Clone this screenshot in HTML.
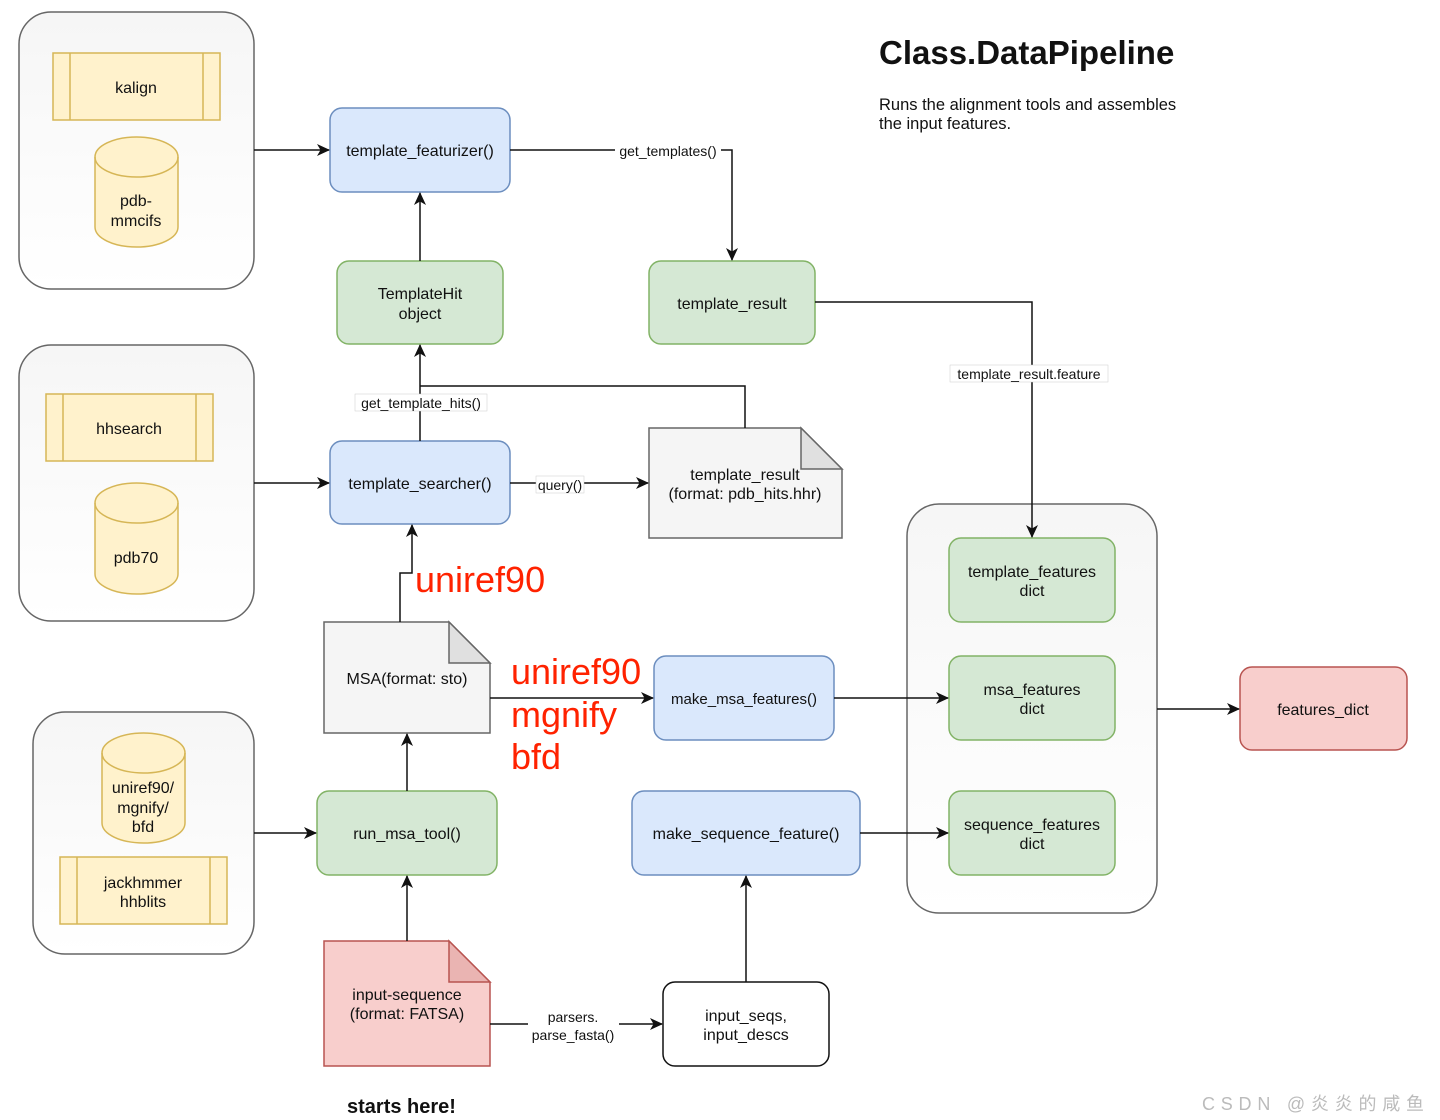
<!DOCTYPE html>
<html><head><meta charset="utf-8"><style>
html,body{margin:0;padding:0;background:#fff}
svg{display:block}
text{font-family:"Liberation Sans",Arial,sans-serif;fill:#111}
</style></head><body>
<svg width="1440" height="1120" viewBox="0 0 1440 1120" xmlns="http://www.w3.org/2000/svg">
<defs>
<marker id="a" markerWidth="14" markerHeight="14" refX="12" refY="7" orient="auto" markerUnits="userSpaceOnUse">
<path d="M0,1 L13,7 L0,13 L3.5,7 Z" fill="#111"/></marker>
<linearGradient id="g" x1="0" y1="0" x2="0" y2="1"><stop offset="0" stop-color="#f6f6f6"/><stop offset="1" stop-color="#ffffff"/></linearGradient>
</defs>

<rect x="19" y="12" width="235" height="277" rx="32" fill="url(#g)" stroke="#666" stroke-width="1.5"/>
<rect x="19" y="345" width="235" height="276" rx="32" fill="url(#g)" stroke="#666" stroke-width="1.5"/>
<rect x="33" y="712" width="221" height="242" rx="32" fill="url(#g)" stroke="#666" stroke-width="1.5"/>
<rect x="907" y="504" width="250" height="409" rx="32" fill="url(#g)" stroke="#666" stroke-width="1.5"/>

<g fill="#fff2cc" stroke="#d6b656" stroke-width="1.5">
<rect x="53" y="53" width="167" height="67"/><line x1="70" y1="53" x2="70" y2="120"/><line x1="203" y1="53" x2="203" y2="120"/>
<rect x="46" y="394" width="167" height="67"/><line x1="63" y1="394" x2="63" y2="461"/><line x1="196" y1="394" x2="196" y2="461"/>
<rect x="60" y="857" width="167" height="67"/><line x1="77" y1="857" x2="77" y2="924"/><line x1="210" y1="857" x2="210" y2="924"/>
<path d="M95,157 A41.5,20 0 0 1 178,157 L178,227 A41.5,20 0 0 1 95,227 Z"/><path d="M95,157 A41.5,20 0 0 0 178,157" fill="none"/>
<path d="M95,503 A41.5,20 0 0 1 178,503 L178,574 A41.5,20 0 0 1 95,574 Z"/><path d="M95,503 A41.5,20 0 0 0 178,503" fill="none"/>
<path d="M102,753 A41.5,20 0 0 1 185,753 L185,823 A41.5,20 0 0 1 102,823 Z"/><path d="M102,753 A41.5,20 0 0 0 185,753" fill="none"/>
</g>
<g font-size="16" text-anchor="middle">
<text x="136" y="93">kalign</text>
<text x="136" y="206">pdb-</text><text x="136" y="226">mmcifs</text>
<text x="129" y="434">hhsearch</text>
<text x="136" y="563">pdb70</text>
<text x="143" y="793">uniref90/</text><text x="143" y="813">mgnify/</text><text x="143" y="832">bfd</text>
<text x="143" y="888">jackhmmer</text><text x="143" y="907">hhblits</text>
</g>

<g fill="#dae8fc" stroke="#6c8ebf" stroke-width="1.5">
<rect x="330" y="108" width="180" height="84" rx="12"/>
<rect x="330" y="441" width="180" height="83" rx="12"/>
<rect x="654" y="656" width="180" height="84" rx="12"/>
<rect x="632" y="791" width="228" height="84" rx="12"/>
</g>
<g fill="#d5e8d4" stroke="#82b366" stroke-width="1.5">
<rect x="337" y="261" width="166" height="83" rx="12"/>
<rect x="649" y="261" width="166" height="83" rx="12"/>
<rect x="317" y="791" width="180" height="84" rx="12"/>
<rect x="949" y="538" width="166" height="84" rx="12"/>
<rect x="949" y="656" width="166" height="84" rx="12"/>
<rect x="949" y="791" width="166" height="84" rx="12"/>
</g>
<rect x="1240" y="667" width="167" height="83" rx="12" fill="#f8cecc" stroke="#b85450" stroke-width="1.5"/>
<rect x="663" y="982" width="166" height="84" rx="12" fill="#fff" stroke="#111" stroke-width="1.5"/>

<g stroke-width="1.5">
<path d="M649,428 L801,428 L842,469 L842,538 L649,538 Z" fill="#f5f5f5" stroke="#666"/>
<path d="M801,428 L801,469 L842,469 Z" fill="#e0e0e0" stroke="#666"/>
<path d="M324,622 L449,622 L490,663 L490,733 L324,733 Z" fill="#f5f5f5" stroke="#666"/>
<path d="M449,622 L449,663 L490,663 Z" fill="#e0e0e0" stroke="#666"/>
<path d="M324,941 L449,941 L490,982 L490,1066 L324,1066 Z" fill="#f8cecc" stroke="#b85450"/>
<path d="M449,941 L449,982 L490,982 Z" fill="#eab4b2" stroke="#b85450"/>
</g>

<g fill="none" stroke="#111" stroke-width="1.5" marker-end="url(#a)">
<path d="M254,150 L329,150"/>
<path d="M420,261 L420,193"/>
<path d="M510,150 L732,150 L732,260"/>
<path d="M815,302 L1032,302 L1032,537"/>
<path d="M254,483 L329,483"/>
<path d="M420,441 L420,345"/>
<path d="M510,483 L648,483"/>
<path d="M400,622 L400,573 L412,573 L412,525"/>
<path d="M490,698 L653,698"/>
<path d="M834,698 L948,698"/>
<path d="M407,791 L407,734"/>
<path d="M254,833 L316,833"/>
<path d="M407,941 L407,876"/>
<path d="M490,1024 L662,1024"/>
<path d="M746,982 L746,876"/>
<path d="M860,833 L948,833"/>
<path d="M1157,709 L1239,709"/>
</g>
<path d="M745,428 L745,386 L420,386" fill="none" stroke="#111" stroke-width="1.5"/>

<g font-size="14" text-anchor="middle">
<rect x="615" y="142" width="106" height="17" fill="#fff"/><text x="668" y="156">get_templates()</text>
<rect x="950" y="365" width="158" height="17" fill="#fff" stroke="#ccc" stroke-width="0.5"/><text x="1029" y="379">template_result.feature</text>
<rect x="355" y="394" width="132" height="17" fill="#fff" stroke="#ccc" stroke-width="0.5"/><text x="421" y="408">get_template_hits()</text>
<rect x="536" y="476" width="48" height="17" fill="#fff" stroke="#ccc" stroke-width="0.5"/><text x="560" y="490">query()</text>
<rect x="528" y="1008" width="91" height="36" fill="#fff"/><text x="573" y="1022">parsers.</text><text x="573" y="1040">parse_fasta()</text>
</g>

<g font-size="16" text-anchor="middle">
<text x="420" y="156">template_featurizer()</text>
<text x="420" y="299">TemplateHit</text><text x="420" y="319">object</text>
<text x="732" y="309">template_result</text>
<text x="420" y="489">template_searcher()</text>
<text x="745" y="480">template_result</text><text x="745" y="499">(format: pdb_hits.hhr)</text>
<text x="407" y="684">MSA(format: sto)</text>
<text x="744" y="704" font-size="15">make_msa_features()</text>
<text x="407" y="839">run_msa_tool()</text>
<text x="746" y="839">make_sequence_feature()</text>
<text x="407" y="1000">input-sequence</text><text x="407" y="1019">(format: FATSA)</text>
<text x="746" y="1021">input_seqs,</text><text x="746" y="1040">input_descs</text>
<text x="1032" y="577">template_features</text><text x="1032" y="596">dict</text>
<text x="1032" y="695">msa_features</text><text x="1032" y="714">dict</text>
<text x="1032" y="830">sequence_features</text><text x="1032" y="849">dict</text>
<text x="1323" y="715">features_dict</text>
</g>

<text x="879" y="64" font-size="33" font-weight="bold">Class.DataPipeline</text>
<text x="879" y="110" font-size="16.5">Runs the alignment tools and assembles</text>
<text x="879" y="129" font-size="16.5">the input features.</text>

<g font-size="36">
<text x="415" y="592" style="fill:#ff2200">uniref90</text>
<text x="511" y="684" style="fill:#ff2200">uniref90</text>
<text x="511" y="727" style="fill:#ff2200">mgnify</text>
<text x="511" y="769" style="fill:#ff2200">bfd</text>
</g>

<text x="347" y="1113" font-size="20" font-weight="bold">starts here!</text>
<text x="1202" y="1110" font-size="18" style="fill:#bbb" textLength="222">CSDN @炎炎的咸鱼</text>
</svg>
</body></html>
